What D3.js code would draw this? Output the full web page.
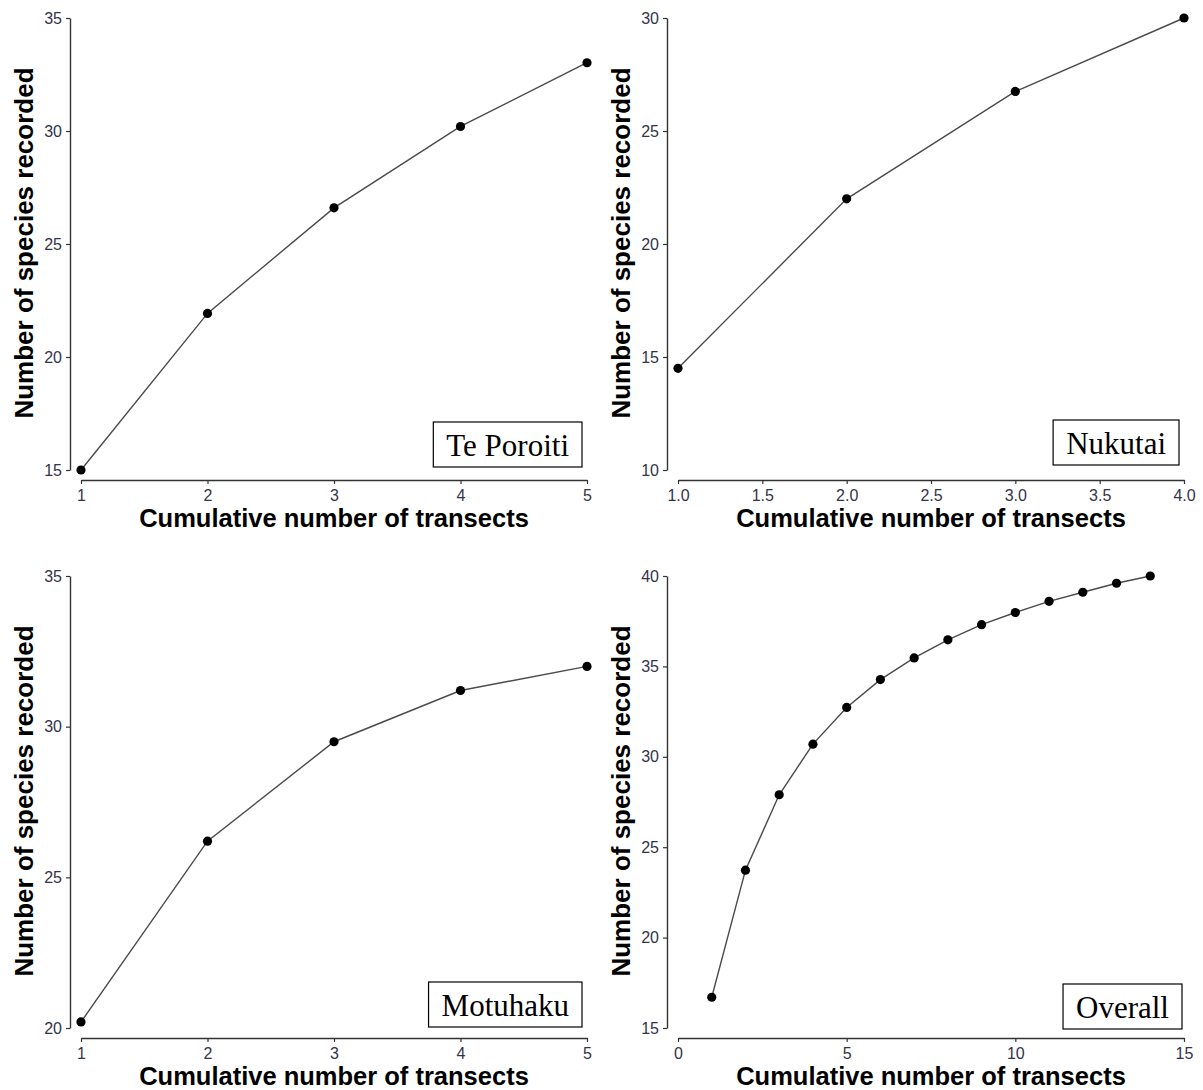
<!DOCTYPE html>
<html>
<head>
<meta charset="utf-8">
<script src="https://cdn.jsdelivr.net/npm/d3@7"></script>
<style>
  body { margin: 0; background: #fff; }
  svg { display: block; }
</style>
</head>
<body>
<svg id="chart" width="1203" height="1090"></svg>
<script>
// data
const tePoroitiX = [1, 2, 3, 4, 5];
const tePoroitiY = [15, 21.93, 26.6, 30.2, 33.02];

const nukutaiX = [1, 2, 3, 4];
const nukutaiY = [14.5, 22.0, 26.75, 30.0];

const motuhakuX = [1, 2, 3, 4, 5];
const motuhakuY = [20.2, 26.2, 29.5, 31.2, 32.0];

const overallX = [1, 2, 3, 4, 5, 6, 7, 8, 9, 10, 11, 12, 13, 14];
const overallY = [16.7, 23.73, 27.9, 30.7, 32.73, 34.27, 35.47, 36.47, 37.31, 37.98, 38.6, 39.1, 39.6, 40.0];

const tePoroitiXTicks = [1, 2, 3, 4, 5];
const tePoroitiYTicks = [15, 20, 25, 30, 35];
const nukutaiXTicks = [1.0, 1.5, 2.0, 2.5, 3.0, 3.5, 4.0];
const nukutaiYTicks = [10, 15, 20, 25, 30];
const motuhakuXTicks = [1, 2, 3, 4, 5];
const motuhakuYTicks = [20, 25, 30, 35];
const overallXTicks = [0, 5, 10, 15];
const overallYTicks = [15, 20, 25, 30, 35, 40];

const xTitle = 'Cumulative number of transects';
const yTitle = 'Number of species recorded';

const panels = [
    { name: 'Te Poroiti', xs: tePoroitiX, ys: tePoroitiY, xDomain: [1, 5], yDomain: [15, 35],
      xTicks: tePoroitiXTicks, yTicks: tePoroitiYTicks, xFmt: d3.format('d'),
      ox: 0, oy: 0, boxRight: 582, boxTop: 422 },
    { name: 'Nukutai', xs: nukutaiX, ys: nukutaiY, xDomain: [1, 4], yDomain: [10, 30],
      xTicks: nukutaiXTicks, yTicks: nukutaiYTicks, xFmt: d3.format('.1f'),
      ox: 597, oy: 0, boxRight: 582, boxTop: 420 },
    { name: 'Motuhaku', xs: motuhakuX, ys: motuhakuY, xDomain: [1, 5], yDomain: [20, 35],
      xTicks: motuhakuXTicks, yTicks: motuhakuYTicks, xFmt: d3.format('d'),
      ox: 0, oy: 558, boxRight: 582, boxTop: 424 },
    { name: 'Overall', xs: overallX, ys: overallY, xDomain: [0, 15], yDomain: [15, 40],
      xTicks: overallXTicks, yTicks: overallYTicks, xFmt: d3.format('d'),
      ox: 597, oy: 558, boxRight: 585, boxTop: 426 },
];

const svg = d3.select('#chart');

const drawPanel = (p) => {
    const g = svg.append('g').attr('transform', `translate(${p.ox},${p.oy})`);

    const xs = d3.scaleLinear().domain(p.xDomain).range([81, 587]);
    const ys = d3.scaleLinear().domain(p.yDomain).range([470, 18]);

    // y axis
    const yAxis = g.append('g')
        .attr('transform', 'translate(70,0)')
        .call(d3.axisLeft(ys).tickValues(p.yTicks).tickSize(4).tickSizeOuter(0).tickPadding(4));

    // x axis, offset below the plot like base R
    const xAxis = g.append('g')
        .attr('transform', 'translate(0,480)')
        .call(d3.axisBottom(xs).tickValues(p.xTicks).tickFormat(p.xFmt).tickSize(4).tickSizeOuter(0).tickPadding(6));

    [yAxis, xAxis].forEach(a => {
        a.select('.domain').attr('stroke', '#333').attr('stroke-width', 1.4);
        a.selectAll('.tick line').attr('stroke', '#333').attr('stroke-width', 1.2);
        a.selectAll('.tick text')
            .attr('fill', '#33334a')
            .style('font-family', '"Liberation Sans", Arial, sans-serif')
            .style('font-size', '16px');
    });

    const pts = p.xs.map((x, i) => [x, p.ys[i]]);

    g.append('path')
        .datum(pts)
        .attr('fill', 'none')
        .attr('stroke', '#4a4a4a')
        .attr('stroke-width', 1.4)
        .attr('d', d3.line().x(d => xs(d[0])).y(d => ys(d[1])));

    g.append('g')
        .selectAll('circle')
        .data(pts)
        .enter()
        .append('circle')
        .attr('r', 4.6)
        .attr('cx', d => xs(d[0]))
        .attr('cy', d => ys(d[1]))
        .attr('fill', '#000');

    // axis titles
    g.append('text')
        .attr('x', 334)
        .attr('y', 527)
        .attr('text-anchor', 'middle')
        .style('font-family', '"Liberation Sans", Arial, sans-serif')
        .style('font-weight', 'bold')
        .style('font-size', '25.5px')
        .text(xTitle);

    g.append('text')
        .attr('transform', 'translate(33,243) rotate(-90)')
        .attr('text-anchor', 'middle')
        .style('font-family', '"Liberation Sans", Arial, sans-serif')
        .style('font-weight', 'bold')
        .style('font-size', '26px')
        .text(yTitle);

    // site label box
    const box = g.append('g');
    const rect = box.append('rect');
    const label = box.append('text')
        .attr('y', p.boxTop + 34)
        .attr('text-anchor', 'middle')
        .style('font-family', '"Liberation Serif", "Times New Roman", serif')
        .style('font-size', '31px')
        .text(p.name);
    const w = label.node().getComputedTextLength() + 26;
    label.attr('x', p.boxRight - w / 2);

    rect.attr('x', p.boxRight - w)
        .attr('y', p.boxTop)
        .attr('width', w)
        .attr('height', 45)
        .attr('fill', '#fff')
        .attr('stroke', '#000')
        .attr('stroke-width', 1.2);
}

panels.forEach(drawPanel);
</script>
</body>
</html>
